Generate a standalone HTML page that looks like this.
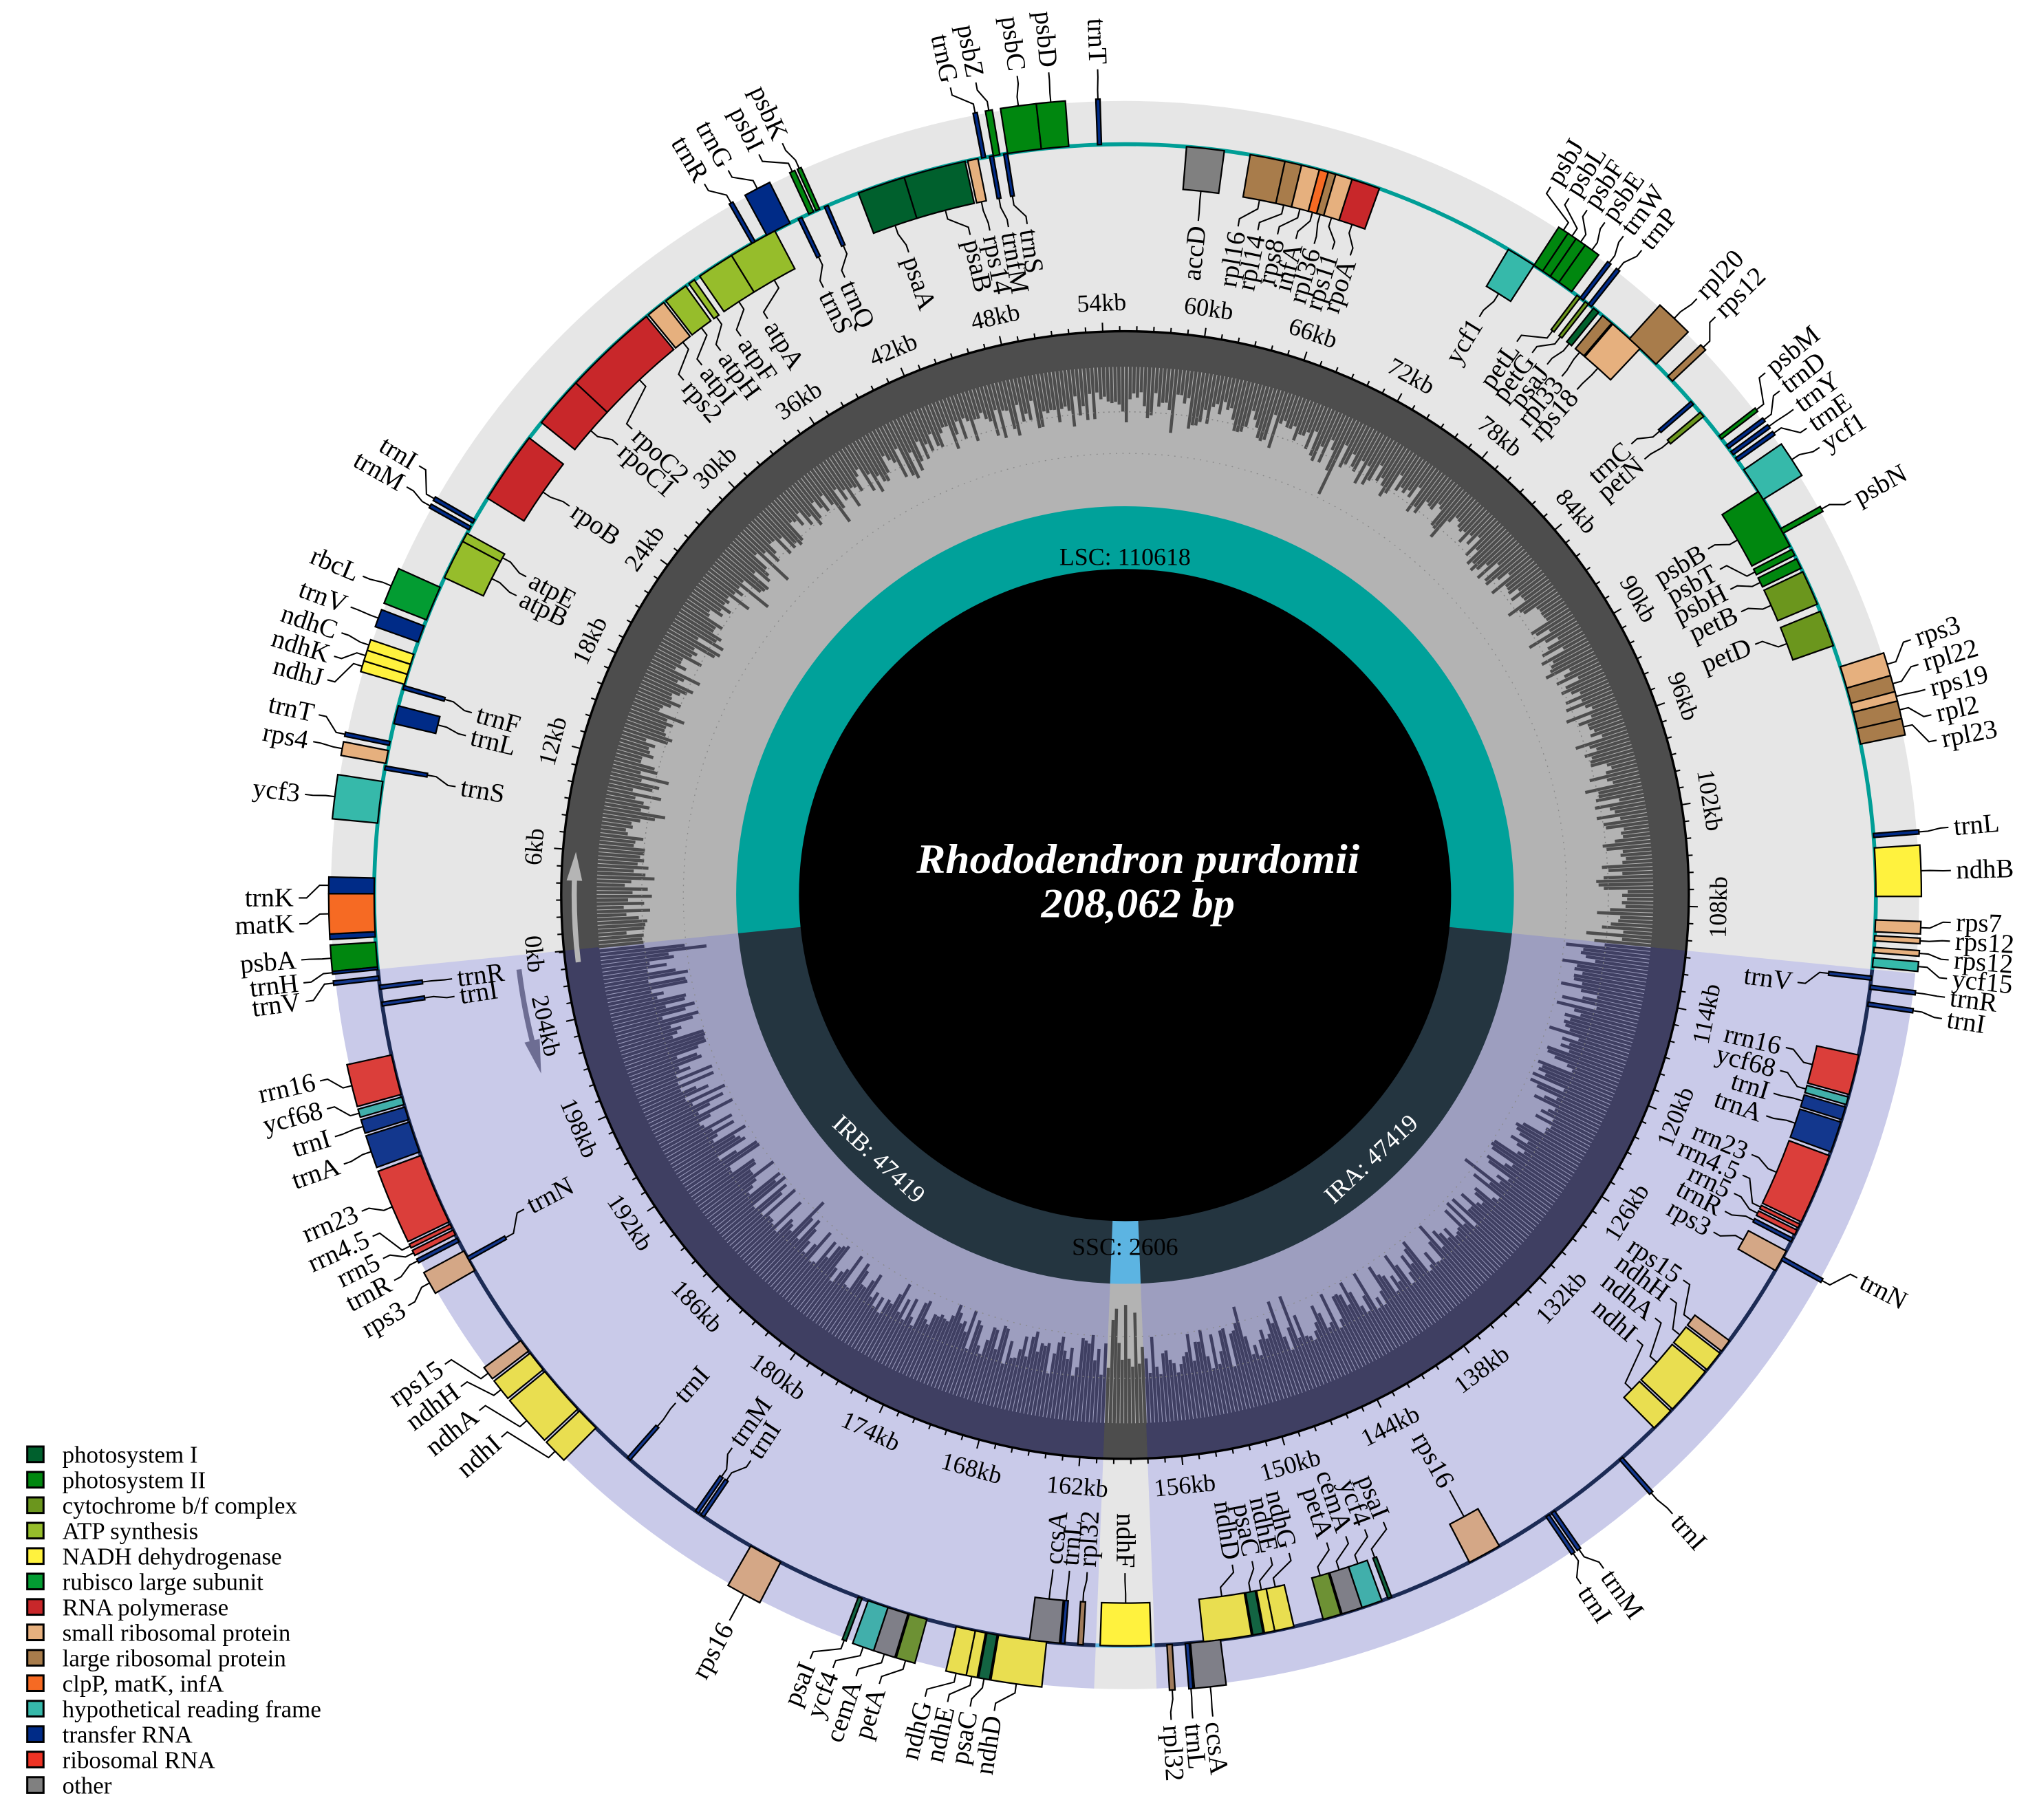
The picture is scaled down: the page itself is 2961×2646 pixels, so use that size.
<!DOCTYPE html>
<html><head><meta charset="utf-8">
<style>
html,body{margin:0;padding:0;background:#fff;width:2961px;height:2646px;overflow:hidden}
svg{display:block;font-family:"Liberation Serif",serif}
text{font-family:"Liberation Serif",serif}
.L text{font-size:20.5px;dominant-baseline:central;font-family:"Liberation Serif",serif}
.L .s{text-anchor:start}.L .e{text-anchor:end}
.K text{font-size:19px;text-anchor:middle;font-family:"Liberation Serif",serif}
.leg text{font-size:18.5px;font-family:"Liberation Serif",serif}
</style></head>
<body>
<svg width="2961" height="2646" viewBox="0 0 1568 1401" preserveAspectRatio="none" xmlns="http://www.w3.org/2000/svg" font-family="Liberation Serif, serif">
<rect width="1568" height="1401" fill="#fff"/>
<g id="g" transform="translate(866,689)"></g>
<g transform="translate(866,689)">
<g class="K">
<text transform="rotate(-85.32) translate(0,-450)">6kb</text>
<text transform="rotate(-74.94) translate(0,-450)">12kb</text>
<text transform="rotate(-64.56) translate(0,-450)">18kb</text>
<text transform="rotate(-54.17) translate(0,-450)">24kb</text>
<text transform="rotate(-43.79) translate(0,-450)">30kb</text>
<text transform="rotate(-33.41) translate(0,-450)">36kb</text>
<text transform="rotate(-23.03) translate(0,-450)">42kb</text>
<text transform="rotate(-12.65) translate(0,-450)">48kb</text>
<text transform="rotate(-2.27) translate(0,-450)">54kb</text>
<text transform="rotate(8.12) translate(0,-450)">60kb</text>
<text transform="rotate(18.50) translate(0,-450)">66kb</text>
<text transform="rotate(28.88) translate(0,-450)">72kb</text>
<text transform="rotate(39.26) translate(0,-450)">78kb</text>
<text transform="rotate(49.64) translate(0,-450)">84kb</text>
<text transform="rotate(60.02) translate(0,-450)">90kb</text>
<text transform="rotate(70.40) translate(0,-450)">96kb</text>
<text transform="rotate(80.79) translate(0,-450)">102kb</text>
<text transform="rotate(264.3) translate(0,-463) rotate(180)">0kb</text>
<text transform="rotate(91.17) translate(0,-463) rotate(180)">108kb</text>
<text transform="rotate(101.55) translate(0,-463) rotate(180)">114kb</text>
<text transform="rotate(111.93) translate(0,-463) rotate(180)">120kb</text>
<text transform="rotate(122.31) translate(0,-463) rotate(180)">126kb</text>
<text transform="rotate(132.69) translate(0,-463) rotate(180)">132kb</text>
<text transform="rotate(143.07) translate(0,-463) rotate(180)">138kb</text>
<text transform="rotate(153.46) translate(0,-463) rotate(180)">144kb</text>
<text transform="rotate(163.84) translate(0,-463) rotate(180)">150kb</text>
<text transform="rotate(174.22) translate(0,-463) rotate(180)">156kb</text>
<text transform="rotate(184.60) translate(0,-463) rotate(180)">162kb</text>
<text transform="rotate(194.98) translate(0,-463) rotate(180)">168kb</text>
<text transform="rotate(205.36) translate(0,-463) rotate(180)">174kb</text>
<text transform="rotate(215.75) translate(0,-463) rotate(180)">180kb</text>
<text transform="rotate(226.13) translate(0,-463) rotate(180)">186kb</text>
<text transform="rotate(236.51) translate(0,-463) rotate(180)">192kb</text>
<text transform="rotate(246.89) translate(0,-463) rotate(180)">198kb</text>
<text transform="rotate(257.27) translate(0,-463) rotate(180)">204kb</text>
<text transform="translate(0,-254)" font-size="18">LSC: 110618</text>
<text transform="translate(0,277)" font-size="18">SSC: 2606</text>
<text transform="rotate(-137) translate(0,-284) rotate(180)" font-size="18" fill="#fff">IRB: 47419</text>
<text transform="rotate(137) translate(0,-284) rotate(180)" font-size="18" fill="#fff">IRA: 47419</text>
</g>
<text x="10" y="-17" fill="#fff" font-size="32" font-weight="bold" font-style="italic" text-anchor="middle" textLength="341" lengthAdjust="spacingAndGlyphs">Rhododendron purdomii</text>
<text x="10" y="17" fill="#fff" font-size="32" font-weight="bold" font-style="italic" text-anchor="middle" textLength="149" lengthAdjust="spacingAndGlyphs">208,062 bp</text>
<g class="L">
<text class="e" transform="rotate(-94.5) translate(0,-640) rotate(90)">psbA</text>
<text class="e" transform="rotate(-96.1) translate(0,-640) rotate(90)">trnH</text>
<text class="e" transform="rotate(-90.2) translate(0,-640) rotate(90)">trnK</text>
<text class="e" transform="rotate(-92) translate(0,-640) rotate(90)">matK</text>
<text class="e" transform="rotate(-83) translate(0,-640) rotate(90)">ycf3</text>
<text class="e" transform="rotate(-79.3) translate(0,-640) rotate(90)">rps4</text>
<text class="e" transform="rotate(-77.4) translate(0,-640) rotate(90)">trnT</text>
<text class="s" transform="rotate(-80.8) translate(0,-518) rotate(90)">trnS</text>
<text class="s" transform="rotate(-76.4) translate(0,-518) rotate(90)">trnL</text>
<text class="s" transform="rotate(-74.4) translate(0,-518) rotate(90)">trnF</text>
<text class="e" transform="rotate(-74.9) translate(0,-640) rotate(90)">ndhJ</text>
<text class="e" transform="rotate(-73.2) translate(0,-640) rotate(90)">ndhK</text>
<text class="e" transform="rotate(-71.5) translate(0,-640) rotate(90)">ndhC</text>
<text class="e" transform="rotate(-69.6) translate(0,-640) rotate(90)">trnV</text>
<text class="e" transform="rotate(-67.3) translate(0,-640) rotate(90)">rbcL</text>
<text class="e" transform="rotate(-60.4) translate(0,-640) rotate(90)">trnM</text>
<text class="e" transform="rotate(-58.7) translate(0,-640) rotate(90)">trnI</text>
<text class="s" transform="rotate(-63.8) translate(0,-518) rotate(90)">atpB</text>
<text class="s" transform="rotate(-62) translate(0,-518) rotate(90)">atpE</text>
<text class="s" transform="rotate(-55) translate(0,-518) rotate(90)">rpoB</text>
<text class="s" transform="rotate(-48.4) translate(0,-518) rotate(90)">rpoC1</text>
<text class="s" transform="rotate(-46.6) translate(0,-518) rotate(90)">rpoC2</text>
<text class="s" transform="rotate(-40.6) translate(0,-518) rotate(90)">rps2</text>
<text class="s" transform="rotate(-38.6) translate(0,-518) rotate(90)">atpI</text>
<text class="s" transform="rotate(-36.6) translate(0,-518) rotate(90)">atpH</text>
<text class="s" transform="rotate(-34.5) translate(0,-518) rotate(90)">atpF</text>
<text class="s" transform="rotate(-31.8) translate(0,-518) rotate(90)">atpA</text>
<text class="e" transform="rotate(-30.6) translate(0,-640) rotate(90)">trnR</text>
<text class="e" transform="rotate(-28.7) translate(0,-640) rotate(90)">trnG</text>
<text class="e" transform="rotate(-26.3) translate(0,-640) rotate(90)">psbI</text>
<text class="e" transform="rotate(-24.5) translate(0,-640) rotate(90)">psbK</text>
<text class="s" transform="rotate(-26.4) translate(0,-518) rotate(90)">trnS</text>
<text class="s" transform="rotate(-24.4) translate(0,-518) rotate(90)">trnQ</text>
<text class="s" transform="rotate(-18.6) translate(0,-518) rotate(90)">psaA</text>
<text class="s" transform="rotate(-13.2) translate(0,-518) rotate(90)">psaB</text>
<text class="s" transform="rotate(-11.5) translate(0,-518) rotate(90)">rps14</text>
<text class="s" transform="rotate(-9.9) translate(0,-518) rotate(90)">trnfM</text>
<text class="s" transform="rotate(-8.3) translate(0,-518) rotate(90)">trnS</text>
<text class="e" transform="rotate(-12.2) translate(0,-640) rotate(90)">trnG</text>
<text class="e" transform="rotate(-10.4) translate(0,-640) rotate(90)">psbZ</text>
<text class="e" transform="rotate(-7.5) translate(0,-640) rotate(90)">psbC</text>
<text class="e" transform="rotate(-5.3) translate(0,-640) rotate(90)">psbD</text>
<text class="e" transform="rotate(-1.9) translate(0,-640) rotate(90)">trnT</text>
<text class="e" transform="rotate(6.2) translate(0,-518) rotate(-90)">accD</text>
<text class="e" transform="rotate(9.6) translate(0,-518) rotate(-90)">rpl16</text>
<text class="e" transform="rotate(11.3) translate(0,-518) rotate(-90)">rpl14</text>
<text class="e" transform="rotate(13) translate(0,-518) rotate(-90)">rps8</text>
<text class="e" transform="rotate(14.6) translate(0,-518) rotate(-90)">infA</text>
<text class="e" transform="rotate(16.2) translate(0,-518) rotate(-90)">rpl36</text>
<text class="e" transform="rotate(17.8) translate(0,-518) rotate(-90)">rps11</text>
<text class="e" transform="rotate(19.4) translate(0,-518) rotate(-90)">rpoA</text>
<text class="e" transform="rotate(31.5) translate(0,-518) rotate(-90)">ycf1</text>
<text class="s" transform="rotate(31) translate(0,-640) rotate(-90)">psbJ</text>
<text class="s" transform="rotate(32.5) translate(0,-640) rotate(-90)">psbL</text>
<text class="s" transform="rotate(34) translate(0,-640) rotate(-90)">psbF</text>
<text class="s" transform="rotate(35.5) translate(0,-640) rotate(-90)">psbE</text>
<text class="s" transform="rotate(37.1) translate(0,-640) rotate(-90)">trnW</text>
<text class="s" transform="rotate(38.7) translate(0,-640) rotate(-90)">trnP</text>
<text class="e" transform="rotate(35.3) translate(0,-518) rotate(-90)">petL</text>
<text class="e" transform="rotate(36.9) translate(0,-518) rotate(-90)">petG</text>
<text class="e" transform="rotate(38.5) translate(0,-518) rotate(-90)">psaJ</text>
<text class="e" transform="rotate(40.1) translate(0,-518) rotate(-90)">rpl33</text>
<text class="e" transform="rotate(41.8) translate(0,-518) rotate(-90)">rps18</text>
<text class="s" transform="rotate(43.8) translate(0,-640) rotate(-90)">rpl20</text>
<text class="s" transform="rotate(45.6) translate(0,-640) rotate(-90)">rps12</text>
<text class="e" transform="rotate(48.3) translate(0,-518) rotate(-90)">trnC</text>
<text class="e" transform="rotate(50) translate(0,-518) rotate(-90)">petN</text>
<text class="s" transform="rotate(50.8) translate(0,-640) rotate(-90)">psbM</text>
<text class="s" transform="rotate(52.4) translate(0,-640) rotate(-90)">trnD</text>
<text class="s" transform="rotate(54) translate(0,-640) rotate(-90)">trnY</text>
<text class="s" transform="rotate(55.6) translate(0,-640) rotate(-90)">trnE</text>
<text class="s" transform="rotate(57.2) translate(0,-640) rotate(-90)">ycf1</text>
<text class="s" transform="rotate(61.5) translate(0,-640) rotate(-90)">psbN</text>
<text class="e" transform="rotate(59.3) translate(0,-518) rotate(-90)">psbB</text>
<text class="e" transform="rotate(61.3) translate(0,-518) rotate(-90)">psbT</text>
<text class="e" transform="rotate(63.2) translate(0,-518) rotate(-90)">psbH</text>
<text class="e" transform="rotate(65.3) translate(0,-518) rotate(-90)">petB</text>
<text class="e" transform="rotate(68.3) translate(0,-518) rotate(-90)">petD</text>
<text class="s" transform="rotate(72) translate(0,-640) rotate(-90)">rps3</text>
<text class="s" transform="rotate(73.8) translate(0,-640) rotate(-90)">rpl22</text>
<text class="s" transform="rotate(75.6) translate(0,-640) rotate(-90)">rps19</text>
<text class="s" transform="rotate(77.4) translate(0,-640) rotate(-90)">rpl2</text>
<text class="s" transform="rotate(79.2) translate(0,-640) rotate(-90)">rpl23</text>
<text class="s" transform="rotate(85.3) translate(0,-640) rotate(-90)">trnL</text>
<text class="s" transform="rotate(88.3) translate(0,-640) rotate(-90)">ndhB</text>
<text class="s" transform="rotate(91.9) translate(0,-640) rotate(-90)">rps7</text>
<text class="s" transform="rotate(93.2) translate(0,-640) rotate(-90)">rps12</text>
<text class="s" transform="rotate(94.5) translate(0,-640) rotate(-90)">rps12</text>
<text class="s" transform="rotate(95.8) translate(0,-640) rotate(-90)">ycf15</text>
<text class="e" transform="rotate(97.4) translate(0,-518) rotate(-90)">trnV</text>
<text class="s" transform="rotate(97.1) translate(0,-640) rotate(-90)">trnR</text>
<text class="s" transform="rotate(98.6) translate(0,-640) rotate(-90)">trnI</text>
<text class="e" transform="rotate(103) translate(0,-518) rotate(-90)">rrn16</text>
<text class="e" transform="rotate(105) translate(0,-518) rotate(-90)">ycf68</text>
<text class="e" transform="rotate(107) translate(0,-518) rotate(-90)">trnI</text>
<text class="e" transform="rotate(109) translate(0,-518) rotate(-90)">trnA</text>
<text class="e" transform="rotate(112.5) translate(0,-518) rotate(-90)">rrn23</text>
<text class="e" transform="rotate(114.4) translate(0,-518) rotate(-90)">rrn4.5</text>
<text class="e" transform="rotate(116.1) translate(0,-518) rotate(-90)">rrn5</text>
<text class="e" transform="rotate(117.8) translate(0,-518) rotate(-90)">trnR</text>
<text class="e" transform="rotate(119.8) translate(0,-518) rotate(-90)">rps3</text>
<text class="s" transform="rotate(117.6) translate(0,-640) rotate(-90)">trnN</text>
<text class="e" transform="rotate(124.6) translate(0,-518) rotate(-90)">rps15</text>
<text class="e" transform="rotate(126.5) translate(0,-518) rotate(-90)">ndhH</text>
<text class="e" transform="rotate(128.6) translate(0,-518) rotate(-90)">ndhA</text>
<text class="e" transform="rotate(131) translate(0,-518) rotate(-90)">ndhI</text>
<text class="s" transform="rotate(138.5) translate(0,-640) rotate(-90)">trnI</text>
<text class="s" transform="rotate(144.6) translate(0,-640) rotate(-90)">trnM</text>
<text class="s" transform="rotate(146.5) translate(0,-640) rotate(-90)">trnI</text>
<text class="e" transform="rotate(151.4) translate(0,-518) rotate(-90)">rps16</text>
<text class="e" transform="rotate(157.6) translate(0,-518) rotate(-90)">psaI</text>
<text class="e" transform="rotate(159.3) translate(0,-518) rotate(-90)">ycf4</text>
<text class="e" transform="rotate(161) translate(0,-518) rotate(-90)">cemA</text>
<text class="e" transform="rotate(162.7) translate(0,-518) rotate(-90)">petA</text>
<text class="e" transform="rotate(166) translate(0,-518) rotate(-90)">ndhG</text>
<text class="e" transform="rotate(167.6) translate(0,-518) rotate(-90)">ndhE</text>
<text class="e" transform="rotate(169.2) translate(0,-518) rotate(-90)">psaC</text>
<text class="e" transform="rotate(170.9) translate(0,-518) rotate(-90)">ndhD</text>
<text class="s" transform="rotate(173.9) translate(0,-640) rotate(-90)">ccsA</text>
<text class="s" transform="rotate(175.3) translate(0,-640) rotate(-90)">trnL</text>
<text class="s" transform="rotate(176.8) translate(0,-640) rotate(-90)">rpl32</text>
<text class="e" transform="rotate(180) translate(0,-518) rotate(-90)">ndhF</text>
<text class="e" transform="rotate(262.6) translate(0,-640) rotate(90)">trnV</text>
<text class="s" transform="rotate(262.9) translate(0,-518) rotate(90)">trnR</text>
<text class="s" transform="rotate(261.4) translate(0,-518) rotate(90)">trnI</text>
<text class="e" transform="rotate(257) translate(0,-640) rotate(90)">rrn16</text>
<text class="e" transform="rotate(255) translate(0,-640) rotate(90)">ycf68</text>
<text class="e" transform="rotate(253) translate(0,-640) rotate(90)">trnI</text>
<text class="e" transform="rotate(251) translate(0,-640) rotate(90)">trnA</text>
<text class="e" transform="rotate(247.5) translate(0,-640) rotate(90)">rrn23</text>
<text class="e" transform="rotate(245.6) translate(0,-640) rotate(90)">rrn4.5</text>
<text class="e" transform="rotate(243.9) translate(0,-640) rotate(90)">rrn5</text>
<text class="e" transform="rotate(242.2) translate(0,-640) rotate(90)">trnR</text>
<text class="e" transform="rotate(240.2) translate(0,-640) rotate(90)">rps3</text>
<text class="s" transform="rotate(242.4) translate(0,-518) rotate(90)">trnN</text>
<text class="e" transform="rotate(235.4) translate(0,-640) rotate(90)">rps15</text>
<text class="e" transform="rotate(233.5) translate(0,-640) rotate(90)">ndhH</text>
<text class="e" transform="rotate(231.4) translate(0,-640) rotate(90)">ndhA</text>
<text class="e" transform="rotate(229) translate(0,-640) rotate(90)">ndhI</text>
<text class="s" transform="rotate(221.5) translate(0,-518) rotate(90)">trnI</text>
<text class="s" transform="rotate(215.4) translate(0,-518) rotate(90)">trnM</text>
<text class="s" transform="rotate(213.5) translate(0,-518) rotate(90)">trnI</text>
<text class="e" transform="rotate(208.6) translate(0,-640) rotate(90)">rps16</text>
<text class="e" transform="rotate(202.4) translate(0,-640) rotate(90)">psaI</text>
<text class="e" transform="rotate(200.7) translate(0,-640) rotate(90)">ycf4</text>
<text class="e" transform="rotate(199) translate(0,-640) rotate(90)">cemA</text>
<text class="e" transform="rotate(197.3) translate(0,-640) rotate(90)">petA</text>
<text class="e" transform="rotate(194) translate(0,-640) rotate(90)">ndhG</text>
<text class="e" transform="rotate(192.4) translate(0,-640) rotate(90)">ndhE</text>
<text class="e" transform="rotate(190.8) translate(0,-640) rotate(90)">psaC</text>
<text class="e" transform="rotate(189.1) translate(0,-640) rotate(90)">ndhD</text>
<text class="s" transform="rotate(186.1) translate(0,-518) rotate(90)">ccsA</text>
<text class="s" transform="rotate(184.7) translate(0,-518) rotate(90)">trnL</text>
<text class="s" transform="rotate(183.2) translate(0,-518) rotate(90)">rpl32</text>
</g>
</g>
<g class="leg" id="leg">
<text x="48" y="1126">photosystem I</text>
<text x="48" y="1145.6">photosystem II</text>
<text x="48" y="1165.2">cytochrome b/f complex</text>
<text x="48" y="1184.7">ATP synthesis</text>
<text x="48" y="1204.3">NADH dehydrogenase</text>
<text x="48" y="1223.9">rubisco large subunit</text>
<text x="48" y="1243.5">RNA polymerase</text>
<text x="48" y="1263.1">small ribosomal protein</text>
<text x="48" y="1282.6">large ribosomal protein</text>
<text x="48" y="1302.2">clpP, matK, infA</text>
<text x="48" y="1321.8">hypothetical reading frame</text>
<text x="48" y="1341.4">transfer RNA</text>
<text x="48" y="1361">ribosomal RNA</text>
<text x="48" y="1380.5">other</text>
</g>
</svg>
<script>
(function(){
var NS="http://www.w3.org/2000/svg";
var G=document.getElementById("g");
function add(tag,a,p){var e=document.createElementNS(NS,tag);for(var k in a)e.setAttribute(k,a[k]);(p||G).appendChild(e);return e;}
function P(r,t){var a=t*Math.PI/180;return [r*Math.sin(a),-r*Math.cos(a)];}
function f(p){return p[0].toFixed(2)+","+p[1].toFixed(2);}
function sec(r1,r2,t1,t2,fill,stroke,sw){
 var lg=(t2-t1)>180?1:0;
 var d="M"+f(P(r2,t1))+"A"+r2+","+r2+" 0 "+lg+" 1 "+f(P(r2,t2))+"L"+f(P(r1,t2))+(r1>0?("A"+r1+","+r1+" 0 "+lg+" 0 "+f(P(r1,t1))):"")+"Z";
 var a={d:d,fill:fill};if(stroke){a.stroke=stroke;a["stroke-width"]=sw;a["stroke-linejoin"]="miter";}else{a.stroke=fill;a["stroke-width"]=0.6;}
 return add("path",a);
}
function arc(r,t1,t2,col,w){var lg=(t2-t1)>180?1:0;add("path",{d:"M"+f(P(r,t1))+"A"+r+","+r+" 0 "+lg+" 1 "+f(P(r,t2)),fill:"none",stroke:col,"stroke-width":w});}
var R=[[-95.7,95.7,0],[95.7,177.75,1],[177.75,182.26,2],[182.26,264.3,1]];
var BG=["#e6e6e6","#c9cae9","#e6e6e6"],LI=["#b3b3b3","#9d9ebf","#b3b3b3"],DK=["#4d4d4d","#3f3f62","#4d4d4d"],TE=["#00a19a","#243540","#5cb4e2"],CI=["#009e96","#1c2b55","#5cb4e2"];
R.forEach(function(g){sec(434,611,g[0],g[1],BG[g[2]]);});
R.forEach(function(g){sec(299,434,g[0],g[1],LI[g[2]]);});
R.forEach(function(g){sec(407,434,g[0],g[1],DK[g[2]]);});
function reg(t){for(var i=0;i<R.length;i++){if(t>=R[i][0]&&t<R[i][1])return R[i][2];}return 0;}
var seed=12345;function rnd(){seed=(seed*1103515245+12345)%2147483648;return seed/2147483648;}
for(var t=-95.6;t<264.3;t+=0.42){
 var k=reg(t),L;
 if(k==0){L=20+26*Math.pow(rnd(),1.3);if(rnd()<0.06)L+=22*rnd();}
 else if(k==1){L=34+34*rnd();if(rnd()<0.05)L+=20*rnd();}
 else {L=40+55*rnd();}
 add("line",{x1:P(407.5,t)[0],y1:P(407.5,t)[1],x2:P(407.5-L,t)[0],y2:P(407.5-L,t)[1],stroke:DK[k],"stroke-width":2.4});
}
add("circle",{r:372,fill:"none",stroke:"#808080","stroke-width":0.8,"stroke-dasharray":"1,3"});
add("circle",{r:340,fill:"none",stroke:"#8a8a8a","stroke-width":0.7,"stroke-dasharray":"1,4"});
R.forEach(function(g){sec(251,299,g[0],g[1],TE[g[2]]);});
add("circle",{r:251,fill:"#000"});
add("circle",{r:434,fill:"none",stroke:"#000","stroke-width":1.8});
for(var i=0;i<=208;i++){var tt=-95.7+1.73025*i;var l=(i%6==0)?7:4;var a=P(434,tt),b=P(434+l,tt);add("line",{x1:a[0],y1:a[1],x2:b[0],y2:b[1],stroke:"#000","stroke-width":1.1});}
arc(424,-97,-88,"#b5b5b5",4);
(function(){var h=-85.5,b1=P(418,-88.5),b2=P(430,-88.5),tip=P(424,h);add("path",{d:"M"+f(b1)+"L"+f(tip)+"L"+f(b2)+"Z",fill:"#b5b5b5"});})();
arc(470,-104,-97,"#6d6d93",4);
(function(){var b1=P(464,-103.8),b2=P(476,-103.8),tip=P(470,-107);add("path",{d:"M"+f(b1)+"L"+f(tip)+"L"+f(b2)+"Z",fill:"#6d6d93"});})();
R.forEach(function(g){arc(578,g[0],g[1],CI[g[2]],3);});
var C={PSI:"#00602d",PSII:"#00870f",CYT:"#6b961d",ATP:"#96bd2b",NDH:"#fff23e",RBC:"#039c32",RNAP:"#c8272a",SRP:"#e6b07e",LRP:"#a87c4b",CLP:"#f66a23",YCF:"#36b9aa",TRNA:"#002b87",RRNA:"#ee3324",OTH:"#808080"};
function tint(h){var r=parseInt(h.substr(1,2),16),g=parseInt(h.substr(3,2),16),b=parseInt(h.substr(5,2),16);
 r=Math.round(r*0.84+120*0.16);g=Math.round(g*0.84+120*0.16);b=Math.round(b*0.84+175*0.16);return "rgb("+r+","+g+","+b+")";}
var LSC=[
[-95.5,-93.6,"o","PSII",-94.5],[-95.7,-95.5,"o","TRNA",-96.1],[-89.9,-88.7,"o","TRNA",-90.2],[-93.2,-92.8,"o","TRNA",null],
[-92.8,-89.9,"o","CLP",-92],[-84.5,-81.3,"o","YCF",-83],[-79.9,-78.9,"o","SRP",-79.3],[-78.5,-78.2,"o","TRNA",-77.4],
[-80.4,-80.1,"i","TRNA",-80.8],[-76.8,-75.4,"i","TRNA",-76.4],[-74.1,-73.8,"i","TRNA",-74.4],
[-73.7,-72.9,"o","NDH",-74.9],[-72.9,-72.1,"o","NDH",-73.2],[-72.1,-71.3,"o","NDH",-71.5],[-70.3,-69.0,"o","TRNA",-69.6],[-68.5,-65.8,"o","RBC",-67.3],
[-60.9,-60.6,"o","TRNA",-60.4],[-60.3,-60.0,"o","TRNA",-58.7],[-65,-61.9,"i","ATP",-63.8],[-61.9,-61.2,"i","ATP",-62],
[-58.1,-52.5,"i","RNAP",-55],[-51,-47,"i","RNAP",-48.4],[-47,-39.6,"i","RNAP",-46.6],[-39.4,-37.9,"i","SRP",-40.6],
[-37.7,-35.8,"i","ATP",-38.6],[-35.5,-35.0,"i","ATP",-36.6],[-34.5,-31.6,"i","ATP",-34.5],[-31.6,-27.8,"i","ATP",-31.8],
[-29.8,-29.5,"o","TRNA",-30.6],[-28.5,-26.5,"o","TRNA",-28.7],[-24.9,-24.5,"o","PSII",-26.3],[-24.3,-24.0,"o","PSII",-24.5],
[-25.8,-25.5,"i","TRNA",-26.4],[-23.6,-23.3,"i","TRNA",-24.4],[-20.8,-17.1,"i","PSI",-18.6],[-17.1,-12.3,"i","PSI",-13.2],
[-12.1,-11.3,"i","SRP",-11.5],[-10.4,-10.1,"i","TRNA",-9.9],[-9.3,-9.0,"i","TRNA",-8.3],
[-11.0,-10.7,"o","TRNA",-12.2],[-10.1,-9.6,"o","PSII",-10.4],[-9.0,-6.4,"o","PSII",-7.5],[-6.4,-4.3,"o","PSII",-5.3],[-2.1,-1.8,"o","TRNA",-1.9],
[4.7,7.6,"i","OTH",6.2],[9.6,12.3,"i","LRP",9.6],[12.3,13.6,"i","LRP",11.3],[13.6,15.0,"i","SRP",13],[15.0,15.7,"i","CLP",14.6],
[15.7,16.3,"i","LRP",16.2],[16.3,17.6,"i","SRP",17.8],[17.6,19.8,"i","RNAP",19.4],[30.7,33.0,"i","YCF",31.5],
[33.0,33.8,"o","PSII",31],[33.8,34.5,"o","PSII",32.5],[34.5,35.3,"o","PSII",34],[35.3,36.5,"o","PSII",35.5],
[37.3,37.6,"o","TRNA",37.1],[38.1,38.4,"o","TRNA",38.7],[37.0,37.3,"i","CYT",35.3],[37.8,38.1,"i","CYT",36.9],[38.6,39.1,"i","PSI",38.5],
[39.5,40.4,"i","LRP",40.1],[40.5,43.3,"i","SRP",41.8],[42.2,45.0,"o","LRP",43.8],[46.3,46.8,"o","LRP",45.6],
[48.9,49.2,"i","TRNA",48.3],[50.0,50.4,"i","CYT",50],[52.3,52.6,"o","PSII",50.8],[53.2,53.5,"o","TRNA",52.4],[53.8,54.1,"o","TRNA",54],
[54.4,54.7,"o","TRNA",55.6],[55.5,58.2,"o","YCF",57.2],[60.8,61.2,"o","PSII",61.5],
[57.5,62.3,"i","PSII",59.3],[62.6,63.1,"i","PSII",61.3],[63.4,64.2,"i","PSII",63.2],[64.5,67.2,"i","CYT",65.3],[67.8,70.6,"i","CYT",68.3],
[72.3,74.0,"o","SRP",72],[74.0,75.2,"o","LRP",73.8],[75.2,75.9,"o","SRP",75.6],[75.9,77.2,"o","LRP",77.4],[77.2,78.4,"o","LRP",79.2],
[85.3,85.6,"o","TRNA",85.3],[86.4,90.1,"o","NDH",88.3],[91.9,92.8,"o","SRP",91.9],[93.1,93.5,"o","SRP",93.2],[94.0,94.4,"o","SRP",94.5],[94.8,95.5,"o","YCF",95.8]
];
var IRA=[
[96.2,96.5,"i","TRNA",97.4],[96.9,97.2,"o","TRNA",97.1],[98.2,98.5,"o","TRNA",98.6],[102.3,105.4,"i","RRNA",103],
[105.6,106.2,"i","YCF",105],[106.4,107.4,"i","TRNA",107],[107.6,110.0,"i","TRNA",109],[110.3,115.8,"i","RRNA",112.5],
[116.0,116.3,"i","RRNA",114.4],[116.5,116.9,"i","RRNA",116.1],[117.2,117.5,"i","TRNA",117.8],[118.3,120.0,"i","SRP",119.8],
[118.8,119.1,"o","TRNA",117.6],[126.4,127.4,"i","SRP",124.6],[127.6,129.2,"i","NDH",126.5],[129.4,133.2,"i","NDH",128.6],[133.4,135.2,"i","NDH",131],
[138.5,138.8,"o","TRNA",138.5],[145.1,145.4,"o","TRNA",144.6],[145.6,145.9,"o","TRNA",146.5],[150.1,152.7,"i","SRP",151.4],
[159.2,159.5,"i","PSI",157.6],[160.0,161.6,"i","YCF",159.3],[161.6,163.2,"i","OTH",161],[163.3,164.7,"i","CYT",162.7],
[167.0,168.5,"i","NDH",166],[168.5,169.3,"i","NDH",167.6],[169.4,170.2,"i","PSI",169.2],[170.3,174.0,"i","NDH",170.9],
[172.7,175.0,"o","OTH",173.9],[175.1,175.4,"o","TRNA",175.3],[176.4,176.8,"o","LRP",176.8]
];
function gene(g,col){
 var t1=g[0],t2=g[1],s=g[2],tl=g[4],tm=(t1+t2)/2;
 if(s=="o")sec(578,613,t1,t2,col,"#000",1.2);else sec(545,578,t1,t2,col,"#000",1.2);
 if(tl===null)return;
 var pts=s=="o"?[P(613,tm),P(620,tm),P(630,tl),P(636,tl)]:[P(545,tm),P(538,tm),P(528,tl),P(522,tl)];
 add("polyline",{points:pts.map(f).join(" "),fill:"none",stroke:"#000","stroke-width":1.1});
}
LSC.forEach(function(g){gene(g,C[g[3]]);});
IRA.forEach(function(g){gene(g,tint(C[g[3]]));
 var m=[360-g[1],360-g[0],g[2]=="o"?"i":"o",g[3],360-g[4]];gene(m,tint(C[g[3]]));});
gene([178.0,181.9,"i","NDH",180],C.NDH);
var LG=document.getElementById("leg");
["PSI","PSII","CYT","ATP","NDH","RBC","RNAP","SRP","LRP","CLP","YCF","TRNA","RRNA","OTH"].forEach(function(k,i){
 var c=1119.5+19.58*i;add("rect",{x:21,y:c-6,width:12.5,height:12,fill:C[k],stroke:"#000","stroke-width":1.6},LG);});
})();
</script>
</body></html>
